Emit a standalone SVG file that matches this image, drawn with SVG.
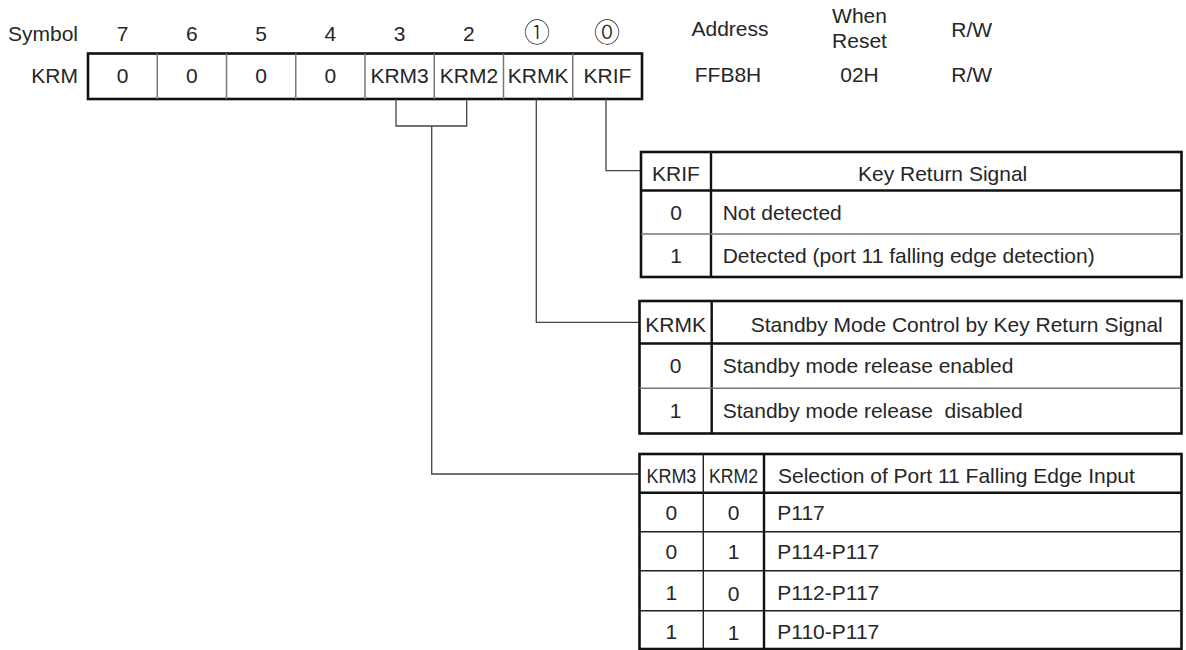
<svg xmlns="http://www.w3.org/2000/svg" width="1186" height="650" viewBox="0 0 1186 650">
<style>
text{font-family:"Liberation Sans",Arial,sans-serif;font-size:21px;fill:#262626}
.m{text-anchor:middle}
.e{text-anchor:end}
.cj{font-family:"Noto Sans CJK JP","DejaVu Sans",sans-serif;font-size:26px;font-weight:300}
.outer{fill:#fff;stroke:#111;stroke-width:2.6}
.thick{stroke:#111;stroke-width:2.4;fill:none}
.thin{stroke:#777;stroke-width:1.5;fill:none}
.thinb{stroke:#222;stroke-width:1.4;fill:none}
.conn{stroke:#444;stroke-width:1.3;fill:none}
</style>
<rect width="1186" height="650" fill="#fff"/>
<g id="header">
<text x="78" y="41" class="e">Symbol</text>
<text x="122.6" y="41" class="m">7</text>
<text x="191.9" y="41" class="m">6</text>
<text x="261.1" y="41" class="m">5</text>
<text x="330.4" y="41" class="m">4</text>
<text x="399.6" y="41" class="m">3</text>
<text x="468.9" y="41" class="m">2</text>
<text x="537" y="41.5" class="m cj">①</text>
<text x="607" y="41.5" class="m cj">⓪</text>
<text x="730" y="36" class="m">Address</text>
<text x="859.5" y="23" class="m">When</text>
<text x="859.5" y="48" class="m">Reset</text>
<text x="971.7" y="36.5" class="m">R/W</text>
</g>
<g id="register">
<text x="78" y="83" class="e">KRM</text>
<rect x="88" y="53.5" width="554" height="45.5" class="outer"/>
<path class="thin" d="M157.25 53.5V99M226.5 53.5V99M295.75 53.5V99M365 53.5V99M434.25 53.5V99M503.5 53.5V99M572.75 53.5V99"/>
<text x="122.6" y="83" class="m">0</text>
<text x="191.9" y="83" class="m">0</text>
<text x="261.1" y="83" class="m">0</text>
<text x="330.4" y="83" class="m">0</text>
<text x="399.6" y="83" class="m">KRM3</text>
<text x="468.9" y="83" class="m">KRM2</text>
<text x="538.1" y="83" class="m">KRMK</text>
<text x="607.4" y="83" class="m">KRIF</text>
<text x="728" y="81.5" class="m">FFB8H</text>
<text x="859.5" y="81.5" class="m">02H</text>
<text x="971.7" y="81.5" class="m">R/W</text>
</g>
<g id="connectors">
<path class="conn" d="M396 99V126H466.7V99"/>
<path class="conn" d="M431.7 126V474H639.5"/>
<path class="conn" d="M536.3 99V322.3H639.5"/>
<path class="conn" d="M606 99V170.7H641"/>
</g>
<g id="table-krif">
<rect x="641" y="152" width="540.5" height="125" class="outer"/>
<path class="thick" d="M711 152V277M641 190.5H1181.5"/>
<path class="thin" d="M641 234H1181.5"/>
<text x="676" y="180.5" class="m">KRIF</text>
<text x="858" y="180.5">Key Return Signal</text>
<text x="676" y="220" class="m">0</text>
<text x="722.7" y="220">Not detected</text>
<text x="676" y="263" class="m">1</text>
<text x="722.7" y="263">Detected (port 11 falling edge detection)</text>
</g>
<g id="table-krmk">
<rect x="639.5" y="301" width="542" height="132.5" class="outer"/>
<path class="thick" d="M711.7 301V433.5M639.5 343.5H1181.5"/>
<path class="thin" d="M639.5 388.3H1181.5"/>
<text x="675.6" y="331.5" class="m">KRMK</text>
<text x="750.7" y="331.5">Standby Mode Control by Key Return Signal</text>
<text x="675.6" y="373" class="m">0</text>
<text x="722.7" y="373">Standby mode release enabled</text>
<text x="675.6" y="418" class="m">1</text>
<text x="722.7" y="418" xml:space="preserve">Standby mode release  disabled</text>
</g>
<g id="table-krm32">
<rect x="639.5" y="454" width="542" height="195" class="outer"/>
<path class="thick" d="M764 454V649M639.5 492.7H1181.5"/>
<path class="thinb" d="M703.3 454V649M639.5 531.7H1181.5M639.5 570.7H1181.5M639.5 610.7H1181.5"/>
<text x="671.4" y="482.5" class="m" textLength="50" lengthAdjust="spacingAndGlyphs">KRM3</text>
<text x="733.6" y="482.5" class="m" textLength="49" lengthAdjust="spacingAndGlyphs">KRM2</text>
<text x="778" y="482.5">Selection of Port 11 Falling Edge Input</text>
<text x="671.4" y="520" class="m">0</text>
<text x="733.6" y="520" class="m">0</text>
<text x="777.3" y="520">P117</text>
<text x="671.4" y="559" class="m">0</text>
<text x="733.6" y="559" class="m">1</text>
<text x="777.3" y="559">P114-P117</text>
<text x="671.4" y="599.5" class="m">1</text>
<text x="733.6" y="601" class="m">0</text>
<text x="777.3" y="600">P112-P117</text>
<text x="671.4" y="638.5" class="m">1</text>
<text x="733.6" y="639.5" class="m">1</text>
<text x="777.3" y="639">P110-P117</text>
</g>
</svg>
